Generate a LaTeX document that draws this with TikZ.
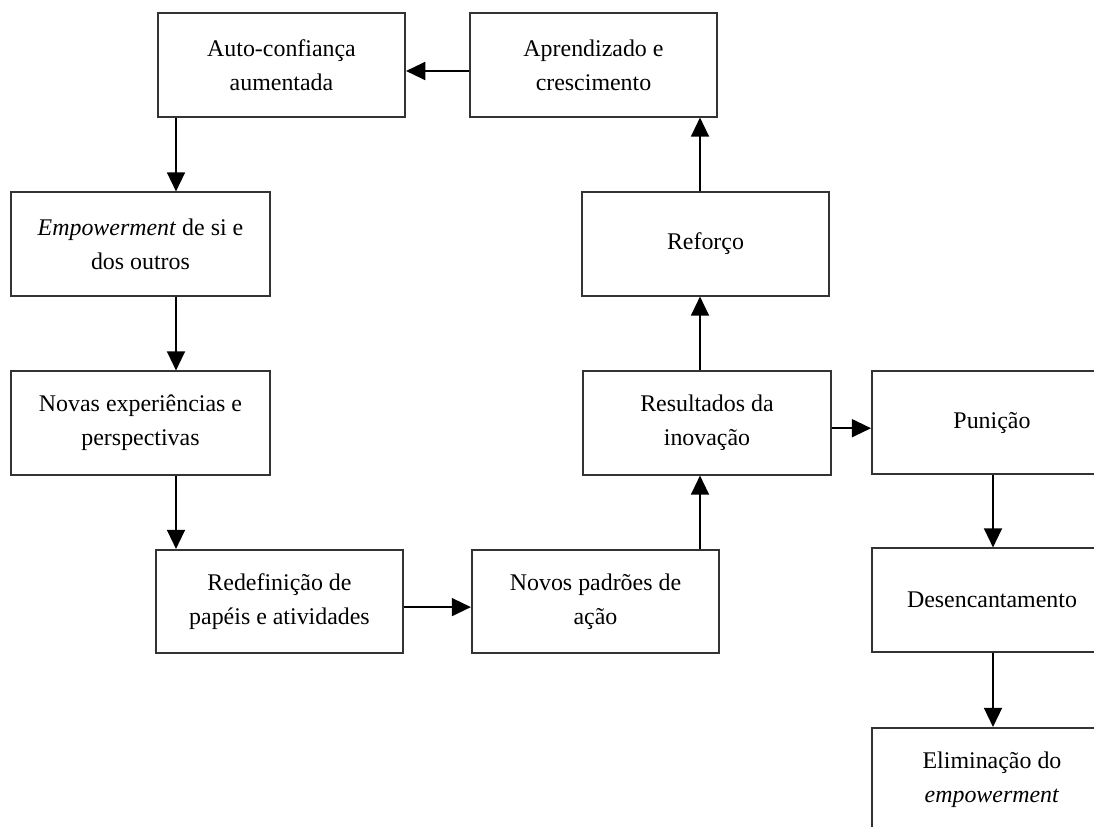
\documentclass[tikz,border=0pt]{standalone}
\usepackage{fontspec}
\setmainfont{Liberation Serif}
\usetikzlibrary{arrows.meta}

\begin{document}
\begin{tikzpicture}[x=0.025cm,y=-0.025cm,line width=1.3pt,>={Triangle[length=0.48cm,width=0.45cm]}]
\tikzstyle{every node}=[draw=black!80,rectangle,align=center,minimum width=6.18cm,minimum height=2.58cm,font=\fontsize{17}{24}\selectfont]
\useasboundingbox (0,0) rectangle (1094,827);
\clip (0,0) rectangle (1094,827);
\node (auto) at (281.5,65) {Auto-confiança\\aumentada};
\node (aprend) at (593.5,65) {Aprendizado e\\crescimento};
\node [minimum width=6.48cm] (empow) at (140.5,244) {\textit{Empowerment} de si e\\dos outros};
\node (reforco) at (705.5,244) {Reforço};
\node [minimum width=6.48cm] (novas) at (140.5,423) {Novas experiências e\\perspectivas};
\node (result) at (707,423) {Resultados da\\inovação};
\node [minimum width=6cm] (punicao) at (992,422.5) {Punição};
\node (redef) at (279.5,601.5) {Redefinição de\\papéis e atividades};
\node (novos) at (595.5,601.5) {Novos padrões de\\ação};
\node [minimum width=6cm] (desenc) at (992,600) {Desencantamento};
\node [minimum width=6cm,anchor=north] (elim) at (992,727) {Eliminação do\\\textit{empowerment}};
\coordinate (xl) at (176,0);
\coordinate (xr) at (700,0);
\coordinate (xp) at (993,0);
\draw [->] ([yshift=-0.15cm]aprend.west) -- ([yshift=-0.15cm]aprend.west -| auto.east);
\draw [->] (auto.south -| xl) -- (empow.north -| xl);
\draw [->] (empow.south -| xl) -- (novas.north -| xl);
\draw [->] (novas.south -| xl) -- (redef.north -| xl);
\draw [->] ([yshift=-0.14cm]redef.east) -- ([yshift=-0.14cm]redef.east -| novos.west);
\draw [->] (novos.north -| xr) -- (result.south -| xr);
\draw [->] (result.north -| xr) -- (reforco.south -| xr);
\draw [->] (reforco.north -| xr) -- (aprend.south -| xr);
\draw [->] ([yshift=-0.13cm]result.east) -- ([yshift=-0.13cm]result.east -| punicao.west);
\draw [->] (punicao.south -| xp) -- (desenc.north -| xp);
\draw [->] (desenc.south -| xp) -- (elim.north -| xp);
\end{tikzpicture}
\end{document}
